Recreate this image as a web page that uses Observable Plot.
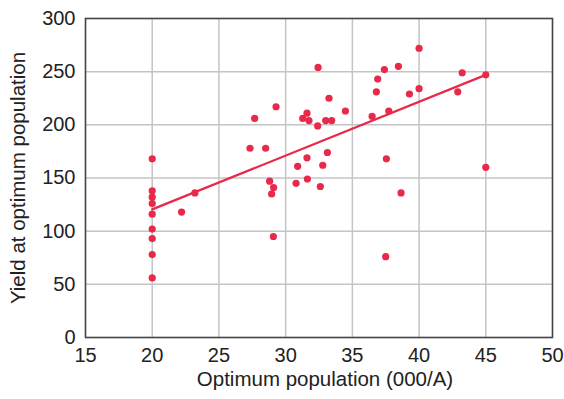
<!DOCTYPE html>
<html>
<head>
<meta charset="utf-8">
<script src="https://cdn.jsdelivr.net/npm/d3@7"></script>
<script src="https://cdn.jsdelivr.net/npm/@observablehq/plot@0.6"></script>
<style>
  html, body { margin: 0; padding: 0; background: #fff; }
  #chart { width: 564px; height: 399px; }
</style>
</head>
<body>
<div id="chart"></div>
<script>
const popX = [20, 20, 20, 20, 20, 20, 20, 20, 20,
  22.2, 23.2, 27.33, 27.68, 28.5, 28.8, 29.1, 28.95, 29.08, 29.28,
  30.78, 30.9, 31.28, 31.6, 31.75, 31.6, 31.63, 32.4, 32.43, 32.6,
  32.78, 33.0, 33.13, 33.25, 33.45, 34.48, 36.48, 36.8, 36.9, 37.4,
  37.73, 37.55, 37.5, 38.45, 38.65, 39.28, 40.0, 40.0, 42.9, 43.23,
  45.0, 45.0];
const yieldY = [168, 138, 132, 126, 116, 102, 93, 78, 56,
  118, 136, 178, 206, 178, 147, 141, 135, 95, 217,
  145, 161, 206, 211, 204, 169, 149, 199, 254, 142,
  162, 204, 174, 225, 204, 213, 208, 231, 243, 252,
  213, 168, 76, 255, 136, 229, 272, 234, 231, 249,
  247, 160];
const fitX = [20, 45];
const fitY = [120.5, 247];
const xTicks = [15, 20, 25, 30, 35, 40, 45, 50];
const yTicks = [0, 50, 100, 150, 200, 250, 300];

const pts = popX.map((x, i) => ({x, y: yieldY[i]}));
const fit = fitX.map((x, i) => ({x, y: fitY[i]}));
const red = "#e8294a";

const chart = Plot.plot({
  width: 564,
  height: 399,
  marginLeft: 85,
  marginRight: 12,
  marginTop: 18,
  marginBottom: 62,
  style: {fontFamily: "'Liberation Sans', Arial, Helvetica, sans-serif", background: "#fff", color: "#222", overflow: "visible"},
  x: {domain: [15, 50]},
  y: {domain: [0, 300]},
  marks: [
    Plot.gridX(xTicks, {stroke: "#c4c4c4", strokeOpacity: 1, strokeWidth: 1.5}),
    Plot.gridY(yTicks, {stroke: "#c4c4c4", strokeOpacity: 1, strokeWidth: 1.5}),
    Plot.axisX(xTicks, {tickSize: 0, tickPadding: 10, fontSize: 20, label: null}),
    Plot.axisY(yTicks, {tickSize: 0, tickPadding: 10, fontSize: 20, label: null}),
    Plot.text(["Optimum population (000/A)"], {frameAnchor: "bottom", lineAnchor: "middle", textAnchor: "middle", dy: 42, dx: 6, fontSize: 20.5, fill: "#222"}),
    Plot.text(["Yield at optimum population"], {frameAnchor: "left", lineAnchor: "middle", textAnchor: "middle", dx: -67, rotate: -90, fontSize: 20.5, fill: "#222"}),
    Plot.line(fit, {x: "x", y: "y", stroke: red, strokeWidth: 2.2}),
    Plot.dot(pts, {x: "x", y: "y", r: 3.6, fill: red, stroke: "none"}),
    Plot.frame({stroke: "#444", strokeWidth: 1.5})
  ]
});
document.getElementById("chart").appendChild(chart);
</script>
</body>
</html>
